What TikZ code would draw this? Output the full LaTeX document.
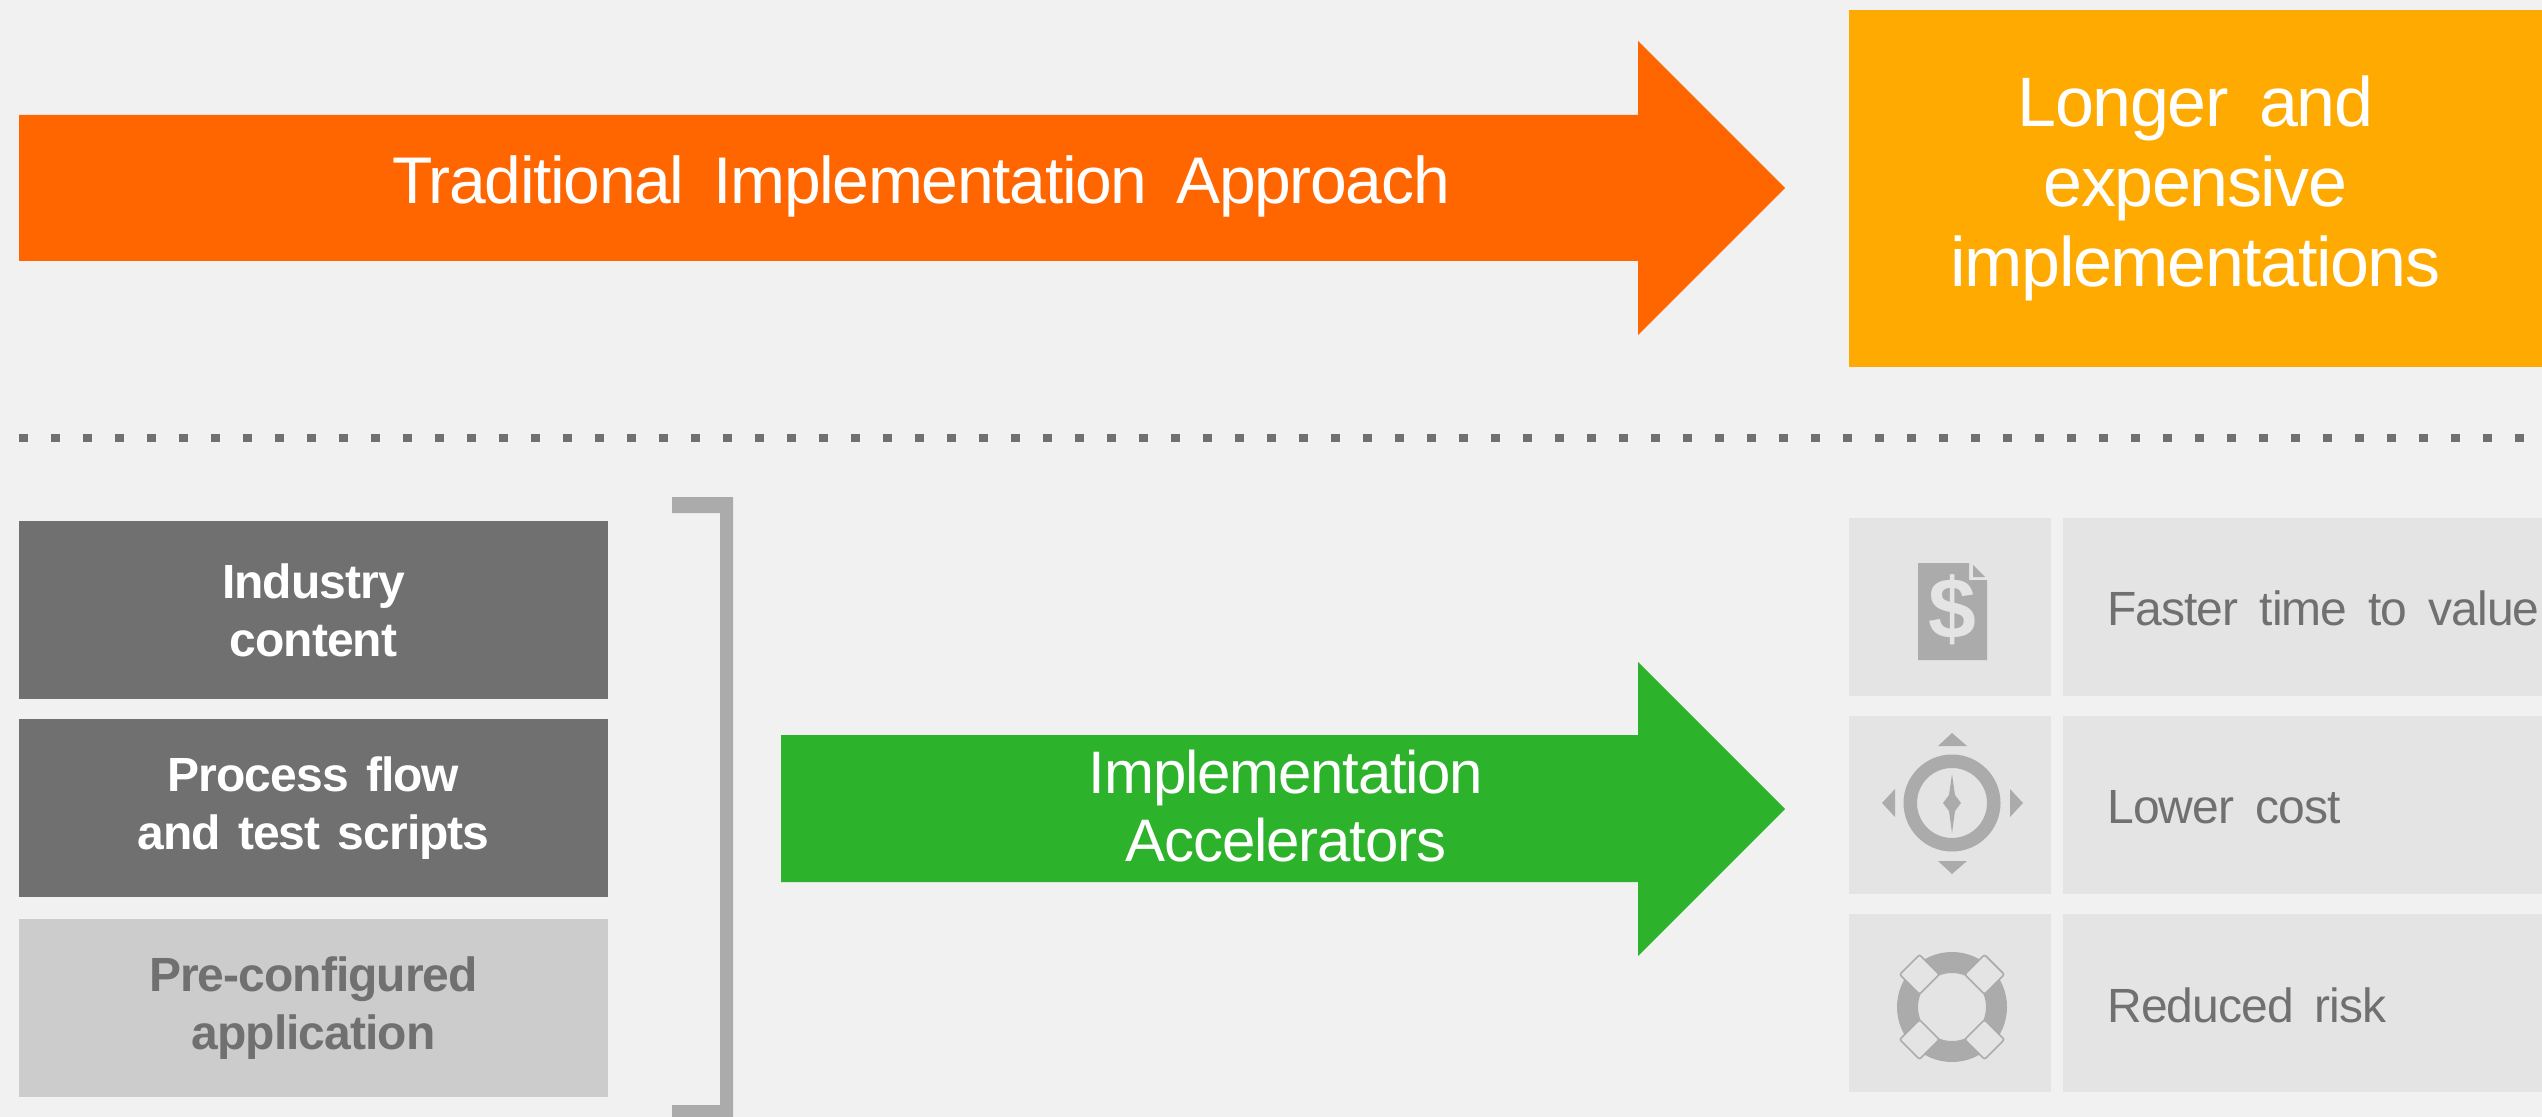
\documentclass[tikz,border=0pt]{standalone}
\usepackage{fontspec}
\setmainfont{Liberation Sans}
\newfontfamily\tightreg[LetterSpace=-2,WordSpace=1.7]{Liberation Sans}
\newfontfamily\tightbold[LetterSpace=-2,WordSpace=1.4]{Liberation Sans Bold}
\definecolor{pagebg}{HTML}{F1F1F1}
\definecolor{orangearrow}{HTML}{FF6600}
\definecolor{amberbox}{HTML}{FFAA00}
\definecolor{greenarrow}{HTML}{2DB32B}
\definecolor{darkbox}{HTML}{707070}
\definecolor{lightbox}{HTML}{CCCCCC}
\definecolor{palebox}{HTML}{E4E4E4}
\definecolor{icongrey}{HTML}{ABABAB}
\tikzset{
  px/.style={x=0.5pt,y=-0.5pt},
  boxbase/.style={rectangle,inner sep=0pt,outer sep=0pt,align=center},
  lighttext/.style={text=white,font=\tightreg\fontsize{33}{40}\selectfont},
  dark/.style={boxbase,fill=darkbox,text=white,minimum width=294.5pt,minimum height=89pt,font=\tightbold\fontsize{24}{29}\selectfont},
  light/.style={dark,fill=lightbox,text=darkbox},
  iconbox/.style={boxbase,fill=palebox,minimum width=101pt,minimum height=89pt},
  textbox/.style={boxbase,fill=palebox,minimum width=239.5pt,minimum height=89pt},
  benefit/.style={inner sep=0pt,anchor=base west,text=darkbox,font=\tightreg\fontsize{24}{29}\selectfont},
  icon/.style={fill=icongrey,draw=none},
}
\begin{document}
\begin{tikzpicture}[px]
\useasboundingbox (0,0) rectangle (2542,1117);
\fill[pagebg] (0,0) rectangle (2542,1117);
% top row
\fill[orangearrow] (19,115) -- (1638,115) -- (1638,41) -- (1785,188) -- (1638,335) -- (1638,261) -- (19,261) -- cycle;
\node[lighttext,inner sep=0pt] (trad) at (921,186) {Traditional Implementation Approach};
\node[boxbase,fill=amberbox,text=white,minimum width=346.5pt,minimum height=178.5pt,font=\tightreg\fontsize{35}{40}\selectfont] (longer) at (2195.5,188.5) {Longer and\\expensive\\implementations};
% dotted divider
\coordinate (d1) at (19,438);
\coordinate (d2) at (2542,438);
\draw[darkbox,line width=4pt,dash pattern=on 4.5pt off 11.5pt] (d1) -- (d2);
% left stack
\node[dark] (c1) at (313.5,610) {Industry\\content};
\node[dark] (c2) at (313.5,808) {Process flow\\and test scripts};
\node[light] (c3) at (313.5,1008) {Pre-configured\\application};
% bracket
\fill[icongrey] (672,497) -- (733,497) -- (733,1117) -- (672,1117) -- (672,1105) -- (720,1105) -- (720,513) -- (672,513) -- cycle;
% green arrow
\fill[greenarrow] (781,735) -- (1638,735) -- (1638,662) -- (1785,809) -- (1638,956) -- (1638,882) -- (781,882) -- cycle;
\node[boxbase,text=white,font=\tightreg\fontsize{30}{34}\selectfont] (accel) at (1286,806) {Implementation\\Accelerators};
% benefit boxes
\node[iconbox] (i1) at (1950,607) {};
\node[iconbox] (i2) at (1950,805) {};
\node[iconbox] (i3) at (1950,1003) {};
\node[textbox] (t1) at (2302.5,607) {};
\node[textbox] (t2) at (2302.5,805) {};
\node[textbox] (t3) at (2302.5,1003) {};
\node[benefit] (l1) at (2107,625) {Faster time to value};
\node[benefit] (l2) at (2107,823) {Lower cost};
\node[benefit] (l3) at (2107,1022) {Reduced risk};
% dollar document
\fill[icongrey] (1918,563) -- (1969,563) -- (1969,580) -- (1987,580) -- (1987,660) -- (1918,660) -- cycle;
\fill[icongrey] (1973,565) -- (1985,577) -- (1973,577) -- cycle;
\node[inner sep=0pt,text=palebox,font=\fontsize{43}{43}\selectfont\bfseries] (dollar) at (1952,610) {\$};
% compass
\fill[icongrey,even odd rule] (1952,803) circle[radius=48.5] (1952,803) circle[radius=35];
\fill[icongrey] (1952,774) -- (1955,795) -- (1961,803) -- (1955,811) -- (1952,833) -- (1949,811) -- (1943,803) -- (1949,795) -- cycle;
\fill[icongrey] (1952,733) -- (1967,746) -- (1938,746) -- cycle;
\fill[icongrey] (1952,874) -- (1967,861) -- (1938,861) -- cycle;
\fill[icongrey] (1882,803) -- (1895,789) -- (1895,817) -- cycle;
\fill[icongrey] (2023,803) -- (2010,789) -- (2010,817) -- cycle;
% life ring
\fill[icongrey,even odd rule] (1952,1007) circle[radius=55] (1952,1007) circle[radius=34];
\foreach \a in {45,135,225,315}
  \draw[icongrey,fill=palebox,line width=0.8pt,rounded corners=1pt,shift={(1952,1007)},rotate=\a]
    (32,-14) rectangle (60,14);
\end{tikzpicture}
\end{document}
